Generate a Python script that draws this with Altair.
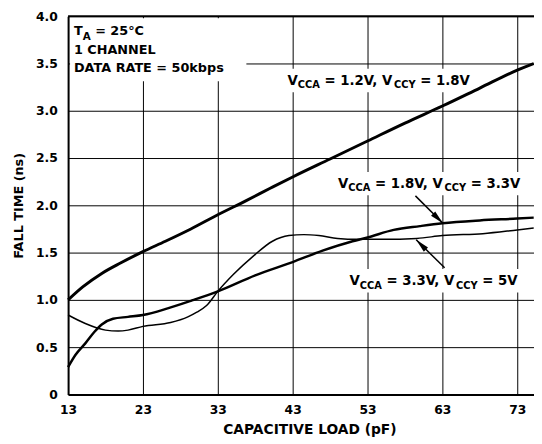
import altair as alt
import pandas as pd

# ---------------- data ----------------
x_thick = [13, 15, 17.5, 20, 23, 26, 29.4, 33, 36.8, 40, 43, 48, 53, 58, 63, 68, 73, 75.2]
y_thick = [1.00, 1.14, 1.28, 1.39, 1.51, 1.62, 1.75, 1.90, 2.05, 2.18, 2.30, 2.49, 2.68, 2.87, 3.05, 3.24, 3.43, 3.50]

x_med = [13, 14, 15.3, 16.5, 17.5, 19, 21, 23, 26.3, 29.4, 33, 38, 43, 47, 51, 53, 56.5, 60, 63, 68, 73, 75.2]
y_med = [0.29, 0.42, 0.54, 0.66, 0.74, 0.80, 0.82, 0.84, 0.91, 0.99, 1.09, 1.26, 1.40, 1.52, 1.62, 1.66, 1.74, 1.78, 1.81, 1.84, 1.86, 1.87]

x_thin = [13, 15.3, 18, 19.7, 21, 23, 26.7, 29, 30.2, 31.5, 33, 35.1, 37.7, 40.3, 42.5, 44.5, 46.5, 49, 51.7, 55, 59.6, 63, 68.4, 73, 75.2]
y_thin = [0.84, 0.75, 0.68, 0.67, 0.68, 0.72, 0.76, 0.82, 0.87, 0.94, 1.09, 1.27, 1.46, 1.62, 1.68, 1.69, 1.68, 1.65, 1.64, 1.64, 1.65, 1.68, 1.70, 1.74, 1.76]

x_ticks = [13, 23, 33, 43, 53, 63, 73]
y_ticks = [0, 0.5, 1.0, 1.5, 2.0, 2.5, 3.0, 3.5, 4.0]

# annotation text pieces: (text, is_subscript)
lab_12 = [("V", 0), ("CCA", 1), (" = 1.2V, V", 0), ("CCY", 1), (" = 1.8V", 0)]
lab_18 = [("V", 0), ("CCA", 1), (" = 1.8V, V", 0), ("CCY", 1), (" = 3.3V", 0)]
lab_33 = [("V", 0), ("CCA", 1), (" = 3.3V, V", 0), ("CCY", 1), (" = 5V", 0)]
leg_1 = [("T", 0), ("A", 1), (" = 25°C", 0)]
leg_2 = [("1 CHANNEL", 0)]
leg_3 = [("DATA RATE = 50kbps", 0)]

# arrows: (tail x, tail y, tip x, tip y) in data units
arrows = [(59.4, 2.10, 63.07, 1.81), (63.3, 1.34, 59.5, 1.635)]
arrow_angles = [135, 315]

# ---------------- layout ----------------
X_MIN, X_MAX = 13, 75.24
Y_MIN, Y_MAX = 0, 4.0
W, H = 473, 384
PXX = W / (X_MAX - X_MIN)
PXY = H / (Y_MAX - Y_MIN)
FONT = "DejaVu Sans"

# DejaVu Sans Bold advance widths (em units / 2048)
ADV = {" ": 713, ",": 780, ".": 780, "=": 1716, "°": 1024, "A": 1585, "C": 1503,
       "D": 1700, "E": 1399, "H": 1712, "L": 1305, "N": 1712, "R": 1577, "T": 1397,
       "V": 1585, "Y": 1485, "b": 1466, "k": 1362, "p": 1466, "s": 1219}


def text_w(s, fs):
    return sum(ADV.get(c, 1425) for c in s) / 2048 * fs


# (pieces, anchor x, baseline y, main size, sub size, sub drop px, background)
annots = [
    (lab_12, 42.3, 3.274, 13.5, 10, 3.5, True),
    (lab_18, 49.05, 2.184, 13.5, 10, 3.5, True),
    (lab_33, 50.58, 1.156, 13.5, 10, 3.5, True),
    (leg_1, 13.79, 3.802, 13, 10.5, 5, False),
    (leg_2, 13.79, 3.604, 13, 10.5, 5, False),
    (leg_3, 13.79, 3.406, 13, 10.5, 5, False),
]

text_rows, bg_rows = [], []
for pieces, ax, ay, fs, sfs, drop, bg in annots:
    off = 0.0
    for t, sub in pieces:
        size = sfs if sub else fs
        body = t.lstrip(" ")
        off += text_w(t[: len(t) - len(body)], size)  # leading blanks become an offset
        text_rows.append(dict(x=ax + off / PXX, y=ay - (drop / PXY if sub else 0), t=body, fs=size))
        off += text_w(body, size)
    if bg:
        bg_rows.append(dict(x1=ax - 4 / PXX, x2=ax + (off + 4) / PXX,
                            y1=ay + (0.76 * fs + 6) / PXY, y2=ay - (drop + 4) / PXY))
# white box behind the condition text block (top-left)
bg_rows.append(dict(x1=X_MIN + 2 / PXX, x2=X_MIN + 181 / PXX, y1=Y_MAX - 2 / PXY, y2=Y_MAX - 66 / PXY))

line_rows = []
for name, xs_, ys_, w in [("VCCA=1.2V, VCCY=1.8V", x_thick, y_thick, 3.0),
                          ("VCCA=1.8V, VCCY=3.3V", x_med, y_med, 2.5),
                          ("VCCA=3.3V, VCCY=5V", x_thin, y_thin, 1.5)]:
    for a, b in zip(xs_, ys_):
        line_rows.append(dict(x=a, y=b, series=name, w=w))

lines_df = pd.DataFrame(line_rows)
text_df = pd.DataFrame(text_rows)
bg_df = pd.DataFrame(bg_rows)
arr_df = pd.DataFrame([dict(x1=a, y1=b, x2=c, y2=d, ang=g) for (a, b, c, d), g in zip(arrows, arrow_angles)])
top_df = pd.DataFrame({"y": [Y_MAX]})

xs = alt.Scale(domain=[X_MIN, X_MAX], nice=False, zero=False)
ys = alt.Scale(domain=[Y_MIN, Y_MAX], nice=False, zero=False)
x_axis = alt.Axis(values=x_ticks, title="CAPACITIVE LOAD (pF)", labelPadding=9, format="d",
                  titleFontSize=14, titleX=245, titleY=36, titleBaseline="middle",
                  labelFlush=False, labelOverlap=False)
y_axis = alt.Axis(values=y_ticks, title="FALL TIME (ns)",
                  labelExpr="datum.value == 0 ? '0' : format(datum.value, '.1f')",
                  labelPadding=11, titleFontSize=13, titleX=-50, titleY=192, titleAngle=270,
                  titleBaseline="middle", titleAlign="center", labelFlush=False, labelOverlap=False)


def X(f):
    return alt.X(f"{f}:Q", scale=xs, axis=x_axis)


def Y(f):
    return alt.Y(f"{f}:Q", scale=ys, axis=y_axis)


bg = alt.Chart(bg_df).mark_rect(color="white").encode(x=X("x1"), x2="x2:Q", y=Y("y1"), y2="y2:Q")

lines = alt.Chart(lines_df).mark_line(interpolate="monotone", color="black").encode(
    x=X("x"), y=Y("y"), detail="series:N", strokeWidth=alt.StrokeWidth("w:Q", scale=None))

shafts = alt.Chart(arr_df).mark_rule(color="black", strokeWidth=1.5).encode(
    x=X("x1"), y=Y("y1"), x2="x2:Q", y2="y2:Q")

heads = alt.Chart(arr_df).mark_point(shape="M0,0L-0.43,2L0.43,2Z", filled=True, color="black",
                                      opacity=1, size=196).encode(
    x=X("x2"), y=Y("y2"), angle=alt.Angle("ang:Q", scale=None))

texts = alt.Chart(text_df).mark_text(align="left", baseline="alphabetic", font=FONT,
                                     fontWeight="bold", color="black").encode(
    x=X("x"), y=Y("y"), text="t:N", size=alt.Size("fs:Q", scale=None))

top = alt.Chart(top_df).mark_rule(color="black", strokeWidth=2).encode(y=Y("y"))

chart = alt.layer(bg, lines, shafts, heads, texts, top).properties(
    width=W, height=H,
    autosize=alt.AutoSizeParams(type="none"),
    padding={"left": 61, "top": 5, "right": 0, "bottom": 47},
).configure_view(stroke=None).configure_axis(
    grid=True, gridColor="black", gridWidth=1, gridOpacity=1,
    domainColor="black", domainWidth=2, ticks=False, tickSize=0,
    labelFont=FONT, labelFontWeight="bold", labelFontSize=12.5, labelColor="black",
    titleFont=FONT, titleFontWeight="bold", titleColor="black",
)

chart.save("out.html", embed_options={"renderer": "svg", "actions": False})
